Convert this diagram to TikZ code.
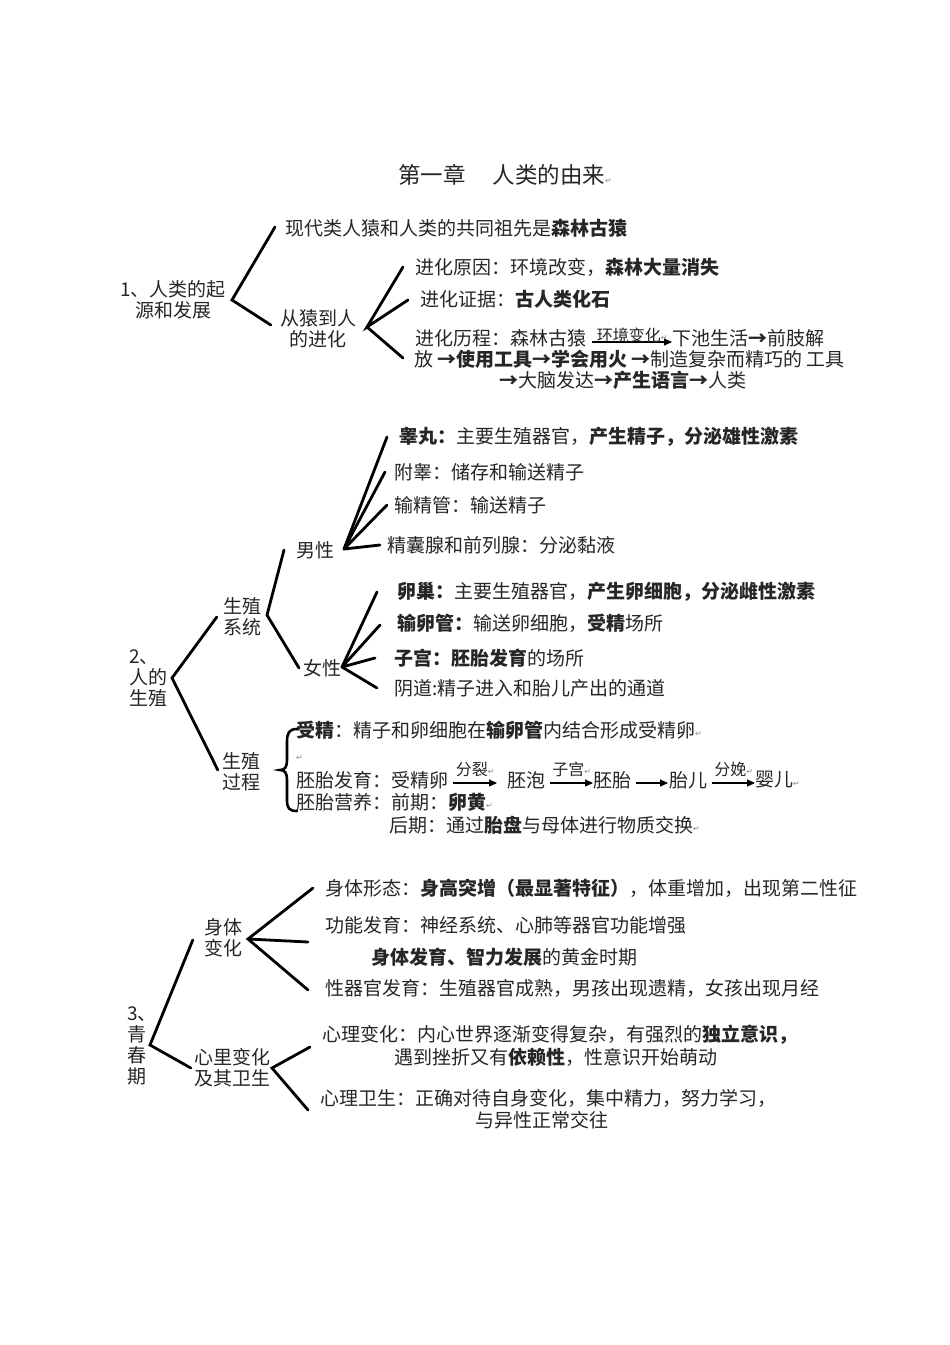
\documentclass[tikz,border=0pt]{standalone}
\usepackage{fontspec}
\setmainfont{Noto Sans CJK SC}
\newfontfamily\djv{DejaVu Sans}
\usetikzlibrary{arrows.meta}
\newcommand\parmark{{\djv\fontsize{8}{8}\selectfont\textcolor{black!45}{\raisebox{0.1ex}{↵}}}}
\begin{document}
\begin{tikzpicture}[x=1pt,y=-1pt,
  txt/.style={anchor=west,inner sep=0pt,font=\fontsize{19}{21}\selectfont,text=black!85},
  lbl/.style={align=center,inner sep=0pt,font=\fontsize{19}{21}\selectfont,text=black!85},
  brk/.style={line width=2.8pt,line cap=round,line join=miter},
  flow/.style={line width=1.1pt,-{Triangle[length=8pt,width=7pt]}},
  alab/.style={inner sep=0pt,font=\fontsize{16}{16}\selectfont,text=black!85}]
\useasboundingbox[fill=white] (0,0) rectangle (950,1345);

% title
\node[anchor=west,inner sep=0pt,font=\fontsize{22.5}{24}\selectfont,text=black!85] (title) at (398,175) {第一章\hspace{27pt}人类的由来\parmark};

% ---------- section 1
\node[lbl] (s1) at (173,300) {1、人类的起\\源和发展};
\node[txt] (a1) at (285,228) {现代类人猿和人类的共同祖先是\textbf{森林古猿}};
\node[lbl] (a2) at (318,329) {从猿到人\\的进化};
\node[txt] (b1) at (415,267) {进化原因：环境改变，\textbf{森林大量消失}};
\node[txt] (b2) at (420,299) {进化证据：\textbf{古人类化石}};
\node[txt] (b3) at (415,338) {进化历程：森林古猿};
\node[txt] (b3b) at (672,338) {下池生活\textbf{→}前肢解};
\node[txt] (b4) at (414,359) {放 \textbf{→使用工具→学会用火} \textbf{→}制造复杂而精巧的 工具};
\node[txt] (b5) at (499,380) {\textbf{→}大脑发达\textbf{→产生语言→}人类};
\draw[flow] ([xshift=6pt,yshift=-4pt]b3.east) -- node[alab,above=-1pt] (l0) {环境变化\parmark} ([yshift=-4pt]b3b.west);

\coordinate (v1) at (232,300);
\draw[brk] ([shift={(-10,-1)}]a1.west) -- (v1) -- ([shift={(-9,-4)}]a2.west);
\coordinate (v2) at (367,327);
\draw[brk] ([shift={(-12,0)}]b1.west) -- (v2) -- ([shift={(-12,1)}]b2.west);
\draw[brk] (v2) -- ([shift={(-11,-1)}]b4.west);

% ---------- section 2
\node[txt,align=left] (s2) at (129,678) {2、\\人的\\生殖};
\node[lbl] (sys) at (242,617) {生殖\\系统};
\node[lbl] (proc) at (241,772) {生殖\\过程};
\node[txt] (male) at (296,550) {男性};
\node[txt] (female) at (303,668) {女性};

\node[txt] (m1) at (399,437) {\textbf{睾丸：}主要生殖器官，\textbf{产生精子，分泌雄性激素}};
\node[txt] (m2) at (394,472) {附睾：储存和输送精子};
\node[txt] (m3) at (394,505) {输精管：输送精子};
\node[txt] (m4) at (387,545) {精囊腺和前列腺：分泌黏液};

\node[txt] (f1) at (397,592) {\textbf{卵巢：}主要生殖器官，\textbf{产生卵细胞，分泌雌性激素}};
\node[txt] (f2) at (397,623) {\textbf{输卵管：}输送卵细胞，\textbf{受精}场所};
\node[txt] (f3) at (394,658) {\textbf{子宫：胚胎发育}的场所};
\node[txt] (f4) at (394,688) {阴道:精子进入和胎儿产出的通道};

\coordinate (v3) at (172,678);
\draw[brk] ([shift={(-6,0)}]sys.west) -- (v3) -- ([shift={(-4,-2)}]proc.west);
\coordinate (v4) at (267,615);
\draw[brk] ([shift={(-12,0)}]male.west) -- (v4) -- ([shift={(-4,0)}]female.west);
\coordinate (v5) at (344,549);
\draw[brk] ([shift={(-12,0)}]m1.west) -- (v5);
\draw[brk] ([shift={(-9,0)}]m2.west) -- (v5);
\draw[brk] ([shift={(-7,0)}]m3.west) -- (v5);
\draw[brk] ([shift={(-7,0)}]m4.west) -- (v5);
\coordinate (v6) at (342,667);
\draw[brk] ([shift={(-20,0)}]f1.west) -- (v6);
\draw[brk] ([shift={(-17,2)}]f2.west) -- (v6);
\draw[brk] ([shift={(-19,0)}]f3.west) -- (v6);
\draw[brk] ([shift={(-17,0)}]f4.west) -- (v6);

% process
\node[txt] (p1) at (296,730) {\textbf{受精}：精子和卵细胞在\textbf{输卵管}内结合形成受精卵\parmark};
\node[txt] (p0) at (296,758) {\parmark};
\node[txt] (e1) at (296,780) {胚胎发育：受精卵};
\node[txt] (e2) at (507,780) {胚泡};
\node[txt] (e3) at (593,780) {胚胎};
\node[txt] (e4) at (669,780) {胎儿};
\node[txt] (e5) at (755,780) {婴儿\parmark};
\draw[flow] ([shift={(5,3)}]e1.east) -- node[alab,above=6pt] (l1) {分裂\parmark} ([shift={(-10,3)}]e2.west);
\draw[flow] ([shift={(5,3)}]e2.east) -- node[alab,above=6pt] (l2) {子宫\parmark} ([shift={(0,3)}]e3.west);
\draw[flow] ([shift={(5,3)}]e3.east) -- ([shift={(-1,3)}]e4.west);
\draw[flow] ([shift={(5,3)}]e4.east) -- node[alab,above=6pt] (l4) {分娩\parmark} ([shift={(0,3)}]e5.west);
\node[txt] (p3) at (296,802) {胚胎营养：前期：\textbf{卵黄}\parmark};
\node[txt] (p4) at (389,825) {后期：通过\textbf{胎盘}与母体进行物质交换\parmark};
\coordinate (brtop) at (297,729);
\coordinate (brtip) at (280,770);
\coordinate (brbot) at (297,811);
\draw[line width=2.6pt,line cap=round] (brtop) .. controls (289,729) and (287,733) .. (287,742) -- (287,760) .. controls (287,767) and (285,770) .. (brtip) .. controls (285,770) and (287,773) .. (287,780) -- (287,800) .. controls (287,808) and (289,811) .. (brbot);

% ---------- section 3
\node[txt,align=left] (s3) at (127,1046) {3、\\青\\春\\期};
\node[lbl] (body) at (223,938) {身体\\变化};
\node[lbl] (mind) at (232,1068) {心里变化\\及其卫生};
\node[txt] (q1) at (325,888) {身体形态：\textbf{身高突增（最显著特征）}，体重增加，出现第二性征};
\node[txt] (q2) at (325,925) {功能发育：神经系统、心肺等器官功能增强};
\node[txt] (q3) at (371,957) {\textbf{身体发育、智力发展}的黄金时期};
\node[txt] (q4) at (325,988) {性器官发育：生殖器官成熟，男孩出现遗精，女孩出现月经};
\node[txt] (r1) at (322,1035) {心理变化：内心世界逐渐变得复杂，有强烈的\textbf{独立意识，}};
\node[txt] (r1b) at (394,1057) {遇到挫折又有\textbf{依赖性}，性意识开始萌动};
\node[txt] (r2) at (320,1098) {心理卫生：正确对待自身变化，集中精力，努力学习，};
\node[txt] (r2b) at (475,1120) {与异性正常交往};

\coordinate (v7) at (150,1045);
\draw[brk] ([shift={(-11,2)}]body.west) -- (v7) -- ([shift={(-3,0)}]mind.west);
\coordinate (v8) at (248,939);
\coordinate (qmid) at (308,942);
\draw[brk] ([shift={(-12,0)}]q1.west) -- (v8) -- ([shift={(-17,2)}]q4.west);
\draw[brk] (v8) -- (qmid);
\coordinate (v9) at (272,1068);
\draw[brk] ([shift={(-12,12)}]r1.west) -- (v9) -- ([shift={(-12,12)}]r2.west);
\end{tikzpicture}
\end{document}
